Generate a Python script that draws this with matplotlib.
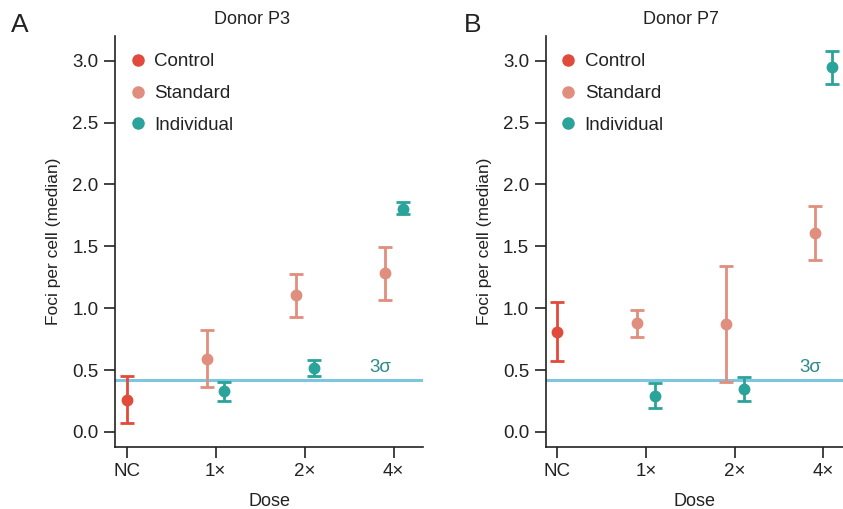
import matplotlib
matplotlib.use("Agg")
import matplotlib.pyplot as plt
from matplotlib.lines import Line2D

plt.rcParams['font.family'] = ['Liberation Sans', 'DejaVu Sans']

doses = ["NC", "1\u00d7", "2\u00d7", "4\u00d7"]
series_names = ["Control", "Standard", "Individual"]
threshold = 0.419

# Panel A: Donor P3
a_control_med = [0.257]
a_control_lo = [0.070]
a_control_hi = [0.451]
a_standard_med = [0.589, 1.104, 1.283]
a_standard_lo = [0.362, 0.931, 1.068]
a_standard_hi = [0.821, 1.277, 1.497]
a_indiv_med = [0.327, 0.513, 1.803]
a_indiv_lo = [0.249, 0.451, 1.760]
a_indiv_hi = [0.405, 0.581, 1.856]

# Panel B: Donor P7
b_control_med = [0.810]
b_control_lo = [0.572]
b_control_hi = [1.048]
b_standard_med = [0.878, 0.870, 1.606]
b_standard_lo = [0.767, 0.400, 1.390]
b_standard_hi = [0.988, 1.342, 1.822]
b_indiv_med = [0.292, 0.346, 2.947]
b_indiv_lo = [0.189, 0.249, 2.810]
b_indiv_hi = [0.394, 0.443, 3.076]

c_control = "#E04B3B"
c_standard = "#E08E7D"
c_indiv = "#2AA39A"
c_line = "#7CC6E0"
c_sigma = "#2E8A8E"
c_text = "#222222"

fig = plt.figure(figsize=(8.43, 5.09), dpi=100)
axA = fig.add_axes([115/843, (509-446.7)/509, 308/843, (446.7-36)/509])
axB = fig.add_axes([545.7/843, (509-446.7)/509, (843-545.7)/843, (446.7-36)/509])


def eb(ax, xs, med, lo, hi, color):
    yerr = [[m - l for m, l in zip(med, lo)], [h - m for m, h in zip(med, hi)]]
    ax.errorbar(xs, med, yerr=yerr, fmt='o', color=color, ms=7.5,
                elinewidth=2.0, capsize=5.2, capthick=2.0, zorder=3)


def panel(ax, cm, cl, ch, sm, sl, sh, im, il, ih, xmax, title, title_x, letter, letter_x, sig_x):
    eb(ax, [0], cm, cl, ch, c_control)
    eb(ax, [x - 0.1 for x in range(1, 4)], sm, sl, sh, c_standard)
    eb(ax, [x + 0.1 for x in range(1, 4)], im, il, ih, c_indiv)
    ax.axhline(threshold, color=c_line, lw=2.2, zorder=2)
    ax.text(sig_x, threshold + 0.03, "3\u03c3", color=c_sigma, fontsize=13.5,
            ha='center', va='bottom')
    ax.set_xlim(-0.13, xmax)
    ax.set_ylim(-0.12, 3.2)
    ax.set_xticks(range(4))
    ax.set_xticklabels(doses)
    ax.set_yticks([0.0, 0.5, 1.0, 1.5, 2.0, 2.5, 3.0])
    ax.set_yticklabels(["0.0", "0.5", "1.0", "1.5", "2.0", "2.5", "3.0"])
    for s in ['top', 'right']:
        ax.spines[s].set_visible(False)
    for s in ['left', 'bottom']:
        ax.spines[s].set_linewidth(1.2)
        ax.spines[s].set_color(c_text)
    ax.tick_params(length=8, width=1.2, labelsize=13.5, colors=c_text, pad=4)
    ax.set_xlabel("Dose", fontsize=13, color=c_text, labelpad=9)
    ax.set_ylabel("Foci per cell (median)", fontsize=12.5, color=c_text, labelpad=8)
    handles = [Line2D([], [], marker='o', ls='', color=c, ms=8)
               for c in (c_control, c_standard, c_indiv)]
    leg = ax.legend(handles, series_names, loc='upper left', frameon=False, fontsize=13.5,
                    handletextpad=0.38, labelspacing=0.78, bbox_to_anchor=(0.0, 0.99),
                    borderaxespad=0.3, handlelength=1.0)
    for t in leg.get_texts():
        t.set_color(c_text)
    fig.text(title_x / 843, 1 - 20 / 509, title, fontsize=13, ha='center', va='center', color=c_text)
    fig.text(letter_x / 843, 1 - 25 / 509, letter, fontsize=19, ha='center', va='center', color=c_text)


panel(axA, a_control_med, a_control_lo, a_control_hi,
      a_standard_med, a_standard_lo, a_standard_hi,
      a_indiv_med, a_indiv_lo, a_indiv_hi, 3.33, "Donor P3", 252, "A", 20, 2.85)
panel(axB, b_control_med, b_control_lo, b_control_hi,
      b_standard_med, b_standard_lo, b_standard_hi,
      b_indiv_med, b_indiv_lo, b_indiv_hi, 3.22, "Donor P7", 681, "B", 473, 2.85)

fig.savefig("out.png", dpi=100)
